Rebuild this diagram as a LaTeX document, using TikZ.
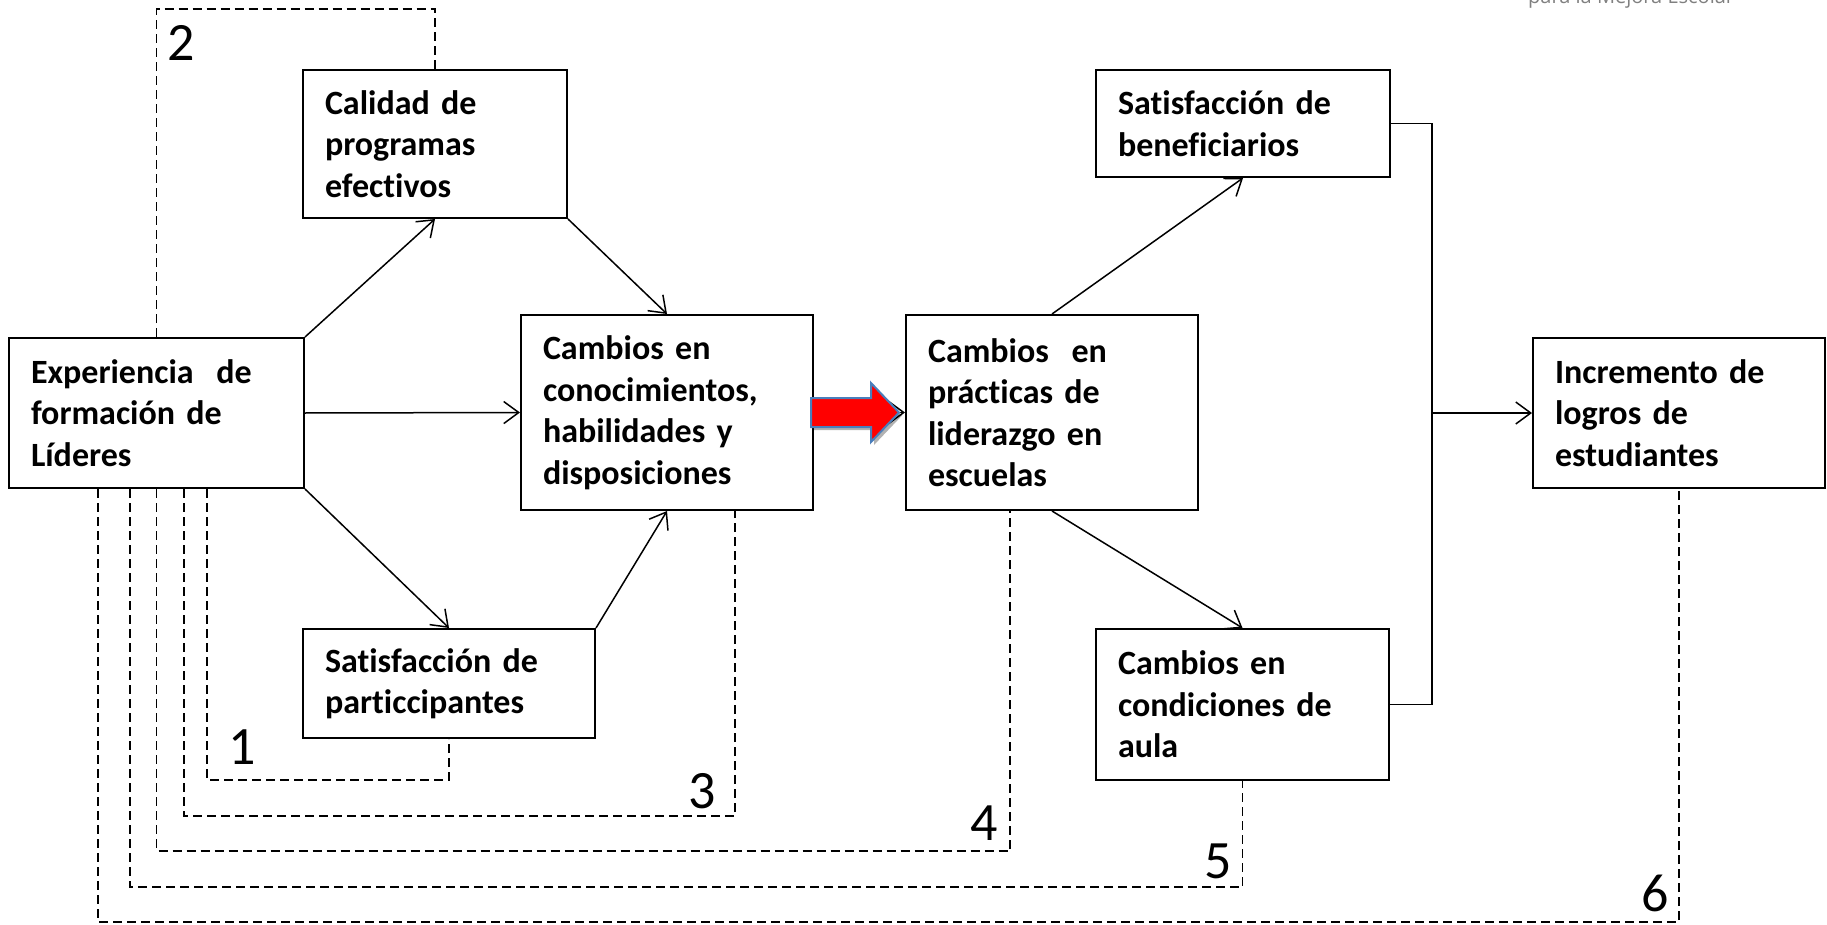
\documentclass[tikz,border=0pt]{standalone}
\usepackage{fontspec}
\setmainfont{Carlito}[Ligatures=CommonOff]
\newfontfamily\logofont{Open Sans}
\usetikzlibrary{arrows.meta,calc,shadows}
\definecolor{arrowblue}{HTML}{4A7EBB}
\begin{document}
\begin{tikzpicture}[x=1pt,y=-1pt,
  box/.style={draw, line width=2pt, align=left, inner xsep=22pt, inner ysep=0pt,
    font=\fontsize{34pt}{41.5pt}\selectfont\bfseries},
  conn/.style={line width=1.5pt, -{Straight Barb[length=15pt,width=22pt]}},
  plain/.style={line width=1.5pt},
  dashline/.style={line width=1.6pt, dash pattern=on 9pt off 5pt},
  num/.style={inner sep=0pt, font=\fontsize{54pt}{60pt}\selectfont}
]
\useasboundingbox (0,0) rectangle (1827,925);
\fill[white] (0,0) rectangle (1827,925);

% partially visible logo text
\node[anchor=base west, inner sep=0pt, text=black!50,
  font=\logofont\fontsize{20pt}{24pt}\selectfont] (logo) at (1528,4) {para la Mejora Escolar};

% boxes
\node[box, text width=251pt, minimum width=295pt, minimum height=150pt] (exp) at (156.5,413)
  {Experiencia\ \ de\\formación de\\Líderes};
\node[box, text width=220pt, minimum width=264pt, minimum height=148pt] (cal) at (435,144)
  {Calidad de\\programas\\efectivos};
\node[box, text width=248pt, minimum width=292pt, minimum height=195pt] (con) at (667,412.5)
  {Cambios en\\conocimientos,\\habilidades y\\disposiciones};
\node[box, text width=248pt, minimum width=292pt, minimum height=109pt] (sp) at (449,683.5)
  {Satisfacción de\\particcipantes};
\node[box, text width=248pt, minimum width=292pt, minimum height=195pt] (pra) at (1052,412.5)
  {Cambios\ \ en\\prácticas de\\liderazgo en\\escuelas};
\node[box, text width=250pt, minimum width=294pt, minimum height=107pt] (sb) at (1243,123.5)
  {Satisfacción de\\beneficiarios};
\node[box, text width=249pt, minimum width=293pt, minimum height=151pt] (cc) at (1242.5,704.5)
  {Cambios en\\condiciones de\\aula};
\node[box, text width=248pt, minimum width=292pt, minimum height=150pt] (inc) at (1679,413)
  {Incremento de\\logros de\\estudiantes};

% helper coordinates
\coordinate (t2) at (0,9);
\coordinate (b1) at (207,780);
\coordinate (b3) at (184,816);
\coordinate (b4) at (157,851);
\coordinate (b5) at (130,887);
\coordinate (b6) at (98,922);
\coordinate (e3) at ($(con.south)+(68,0)$);
\coordinate (e4) at ($(pra.south)+(-42,0)$);
\coordinate (jx) at (1432,0);

% solid connectors
\draw[conn] (exp.north east) -- (cal.south);
\draw[conn] (exp.east) -- (con.west);
\draw[conn] (exp.south east) -- (sp.north);
\draw[conn] (cal.south east) -- (con.north);
\draw[conn] (sp.north east) -- (con.south);
\draw[conn] (con.east) -- (pra.west);
\draw[conn] (pra.north) -- (sb.south);
\draw[conn] (pra.south) -- (cc.north);
\draw[plain] (sb.east) -- (sb.east -| jx) -- (cc.east -| jx) -- (cc.east);
\draw[conn] (inc.west -| jx) -- (inc.west);

% red block arrow
\filldraw[fill=red, draw=arrowblue, line width=2pt, line join=miter,
  drop shadow={shadow xshift=3pt, shadow yshift=-3pt, opacity=0.3, fill=black}]
  ($(con.east)+(-3,-14.5)$) -- ($(con.east)+(57,-14.5)$) -- ($(con.east)+(57,-29.5)$)
  -- ($(con.east)+(85,0)$) -- ($(con.east)+(57,29.5)$) -- ($(con.east)+(57,14.5)$)
  -- ($(con.east)+(-3,14.5)$) -- cycle;

% dashed feedback lines
\draw[dashline] (exp.north) -- (exp.north |- t2) -- (cal.north |- t2) -- (cal.north);
\draw[dashline] (exp.south -| b1) -- (b1) -- (sp.south |- b1) -- (sp.south);
\draw[dashline] (exp.south -| b3) -- (b3) -- (e3 |- b3) -- (e3);
\draw[dashline] (exp.south) -- (exp.south |- b4) -- (e4 |- b4) -- (e4);
\draw[dashline] (exp.south -| b5) -- (b5) -- (cc.south |- b5) -- (cc.south);
\draw[dashline] (exp.south -| b6) -- (b6) -- (inc.south |- b6) -- (inc.south);

% numbers
\node[num] (n2) at (181,43) {2};
\node[num] (n1) at (242,747) {1};
\node[num] (n3) at (702,791) {3};
\node[num] (n4) at (984,823) {4};
\node[num] (n5) at (1218,861) {5};
\node[num] (n6) at (1655,893) {6};
\end{tikzpicture}
\end{document}
